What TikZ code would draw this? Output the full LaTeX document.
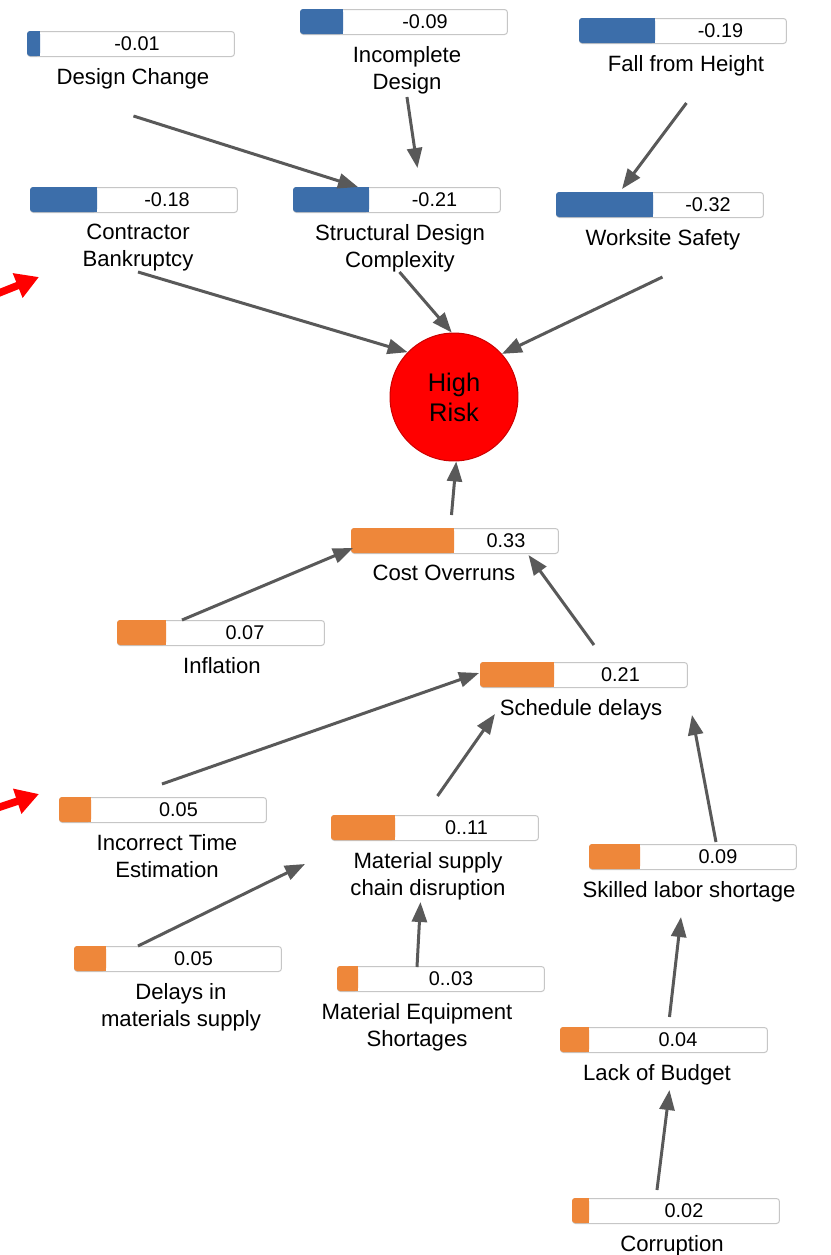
\documentclass[tikz,border=0pt]{standalone}
\usepackage{fontspec}
\setmainfont{Liberation Sans}
\usetikzlibrary{arrows.meta,positioning,calc}

\definecolor{negblue}{HTML}{3C6EAA}
\definecolor{posorange}{HTML}{EE873A}
\definecolor{linkgray}{HTML}{595959}
\definecolor{framegray}{HTML}{C6C6C6}

% #1 name, #2 x, #3 y, #4 filled part, #5 colour, #6 value, #7 label, #8 label shift
\newcommand{\riskbar}[8]{%
  \node[bar frame] (#1) at (#2,#3) {};
  \fill[#5,rounded corners=0.06cm] (#1.north west) rectangle ++(#4,25);
  \fill[#5] ($(#1.north west)+({#4/2},0)$) rectangle ++({#4/2},25);
  \node[bar value] (#1v) at ($(#1.north west)+({(#4+207)/2},12.5)$) {#6};
  \node[bar label,below=0.22cm of #1,xshift=#8*0.02cm] (#1l) {#7};
}

\begin{document}
\begin{tikzpicture}[x=0.02cm,y=-0.02cm,
    bar frame/.style={rectangle,draw=framegray,fill=white,line width=0.02cm,rounded corners=0.06cm,minimum width=4.14cm,minimum height=0.5cm,inner sep=0pt,anchor=north west},
    bar value/.style={inner sep=0pt,font=\fontsize{11.3}{13.5}\selectfont},
    bar label/.style={inner sep=0pt,align=center,font=\fontsize{12.6}{15.3}\selectfont},
    risk node/.style={circle,fill=red,draw=red!80!black,line width=0.02cm,minimum size=2.56cm,inner sep=0pt,align=center,font=\fontsize{14.5}{17.2}\selectfont},
    link/.style={-{Triangle[length=0.4cm,width=0.3cm]},line width=0.06cm,color=linkgray},
    red arrow/.style={-{Triangle[length=0.46cm,width=0.5cm]},line width=0.15cm,color=red}]
  \useasboundingbox (0,0) rectangle (831,1255);

  % negative influences
  \riskbar{dc}{27}{31}{13}{negblue}{-0.01}{Design Change}{2}
  \riskbar{id}{300}{9}{43}{negblue}{-0.09}{Incomplete\\Design}{3}
  \riskbar{fh}{579}{18}{76}{negblue}{-0.19}{Fall from Height}{3}
  \riskbar{cb}{30}{187}{67}{negblue}{-0.18}{Contractor\\Bankruptcy}{4}
  \riskbar{sd}{293}{187}{76}{negblue}{-0.21}{Structural Design\\Complexity}{3}
  \riskbar{ws}{556}{192}{97}{negblue}{-0.32}{Worksite Safety}{3}

  \node[risk node] (hr) at (454,397) {High\\Risk};

  % positive influences
  \riskbar{co}{351}{528}{103}{posorange}{0.33}{Cost Overruns}{-11}
  \riskbar{inf}{117}{620}{49}{posorange}{0.07}{Inflation}{1}
  \riskbar{sch}{480}{662}{74}{posorange}{0.21}{Schedule delays}{-3}
  \riskbar{ite}{59}{797}{32}{posorange}{0.05}{Incorrect Time\\Estimation}{4}
  \riskbar{msc}{331}{815}{64}{posorange}{0..11}{Material supply\\chain disruption}{-7}
  \riskbar{skl}{589}{844}{51}{posorange}{0.09}{Skilled labor shortage}{-4}
  \riskbar{dlm}{74}{946}{32}{posorange}{0.05}{Delays in\\materials supply}{3}
  \riskbar{mes}{337}{966}{21}{posorange}{0..03}{Material Equipment\\Shortages}{-24}
  \riskbar{lob}{560}{1027}{29}{posorange}{0.04}{Lack of Budget}{-7}
  \riskbar{cor}{572}{1198}{17}{posorange}{0.02}{Corruption}{-4}

  \path[link]
    ($(dc.south)+(2.5,59)$) edge ($(sd.north west)+(65,0)$)
    ($(id.south)+(3,62)$) edge ($(sd.north)+(20.5,-19)$)
    ($(fh.south)+(3.5,59)$) edge ($(ws.north west)+(66,-3)$)
    ($(cb.south)+(4,59)$) edge (hr.136)
    ($(sd.south)+(2.5,59)$) edge (hr.92)
    ($(ws.south)+(2.5,59)$) edge (hr.42)
    ($(co.north)+(-3.5,-13)$) edge (hr.-88)
    ($(inf.north west)+(65,0)$) edge ($(co.south west)+(2,-6)$)
    ($(sch.north)+(10,-17)$) edge ($(co.south)+(73.5,1)$)
    ($(ite.north)+(-1,-13)$) edge ($(sch.west)+(-1,-2)$)
    ($(msc.north)+(2.5,-19)$) edge ($(sch.south)+(-89,26)$)
    ($(skl.north)+(23,-2)$) edge ($(sch.south)+(108,27)$)
    ($(dlm.north west)+(64,0)$) edge ($(msc.south west)+(-26,23)$)
    ($(mes.north west)+(80,1)$) edge ($(msc.south)+(-14.5,61)$)
    ($(lob.north)+(5.5,-10)$) edge ($(skl.south)+(-12,47)$)
    ($(cor.north)+(-19,-8)$) edge ($(lob.south)+(5.5,37)$);

  % pointers from outside
  \coordinate (tailA) at (-6,295);
  \coordinate (tipA) at (39,277);
  \coordinate (tailB) at (-6,809);
  \coordinate (tipB) at (39,794);
  \draw[red arrow] (tailA) -- (tipA);
  \draw[red arrow] (tailB) -- (tipB);
\end{tikzpicture}
\end{document}
